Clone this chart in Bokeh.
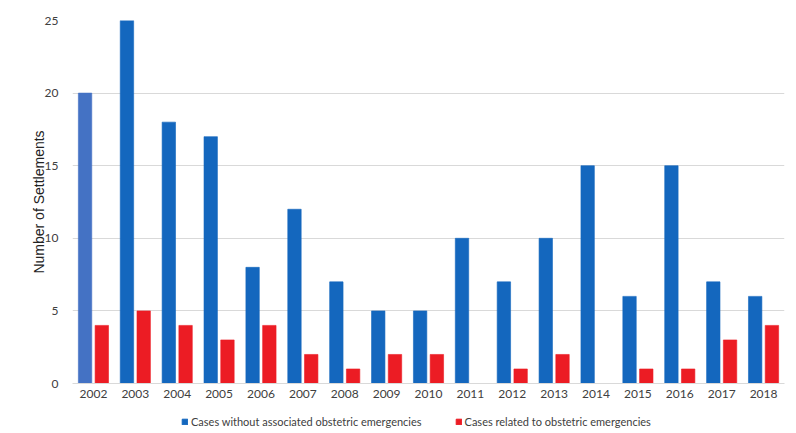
from bokeh.plotting import figure
from bokeh.models import ColumnDataSource, Legend, LegendItem, FactorRange, SingleIntervalTicker
from bokeh.layouts import column
from bokeh.transform import dodge
from bokeh.embed import file_html
from bokeh.resources import INLINE

years = ["2002", "2003", "2004", "2005", "2006", "2007", "2008", "2009", "2010",
         "2011", "2012", "2013", "2014", "2015", "2016", "2017", "2018"]
without_emerg = [20, 25, 18, 17, 8, 12, 7, 5, 5, 10, 7, 10, 15, 6, 15, 7, 6]
related_emerg = [4, 5, 4, 3, 4, 2, 1, 2, 2, 0, 1, 2, 0, 1, 1, 3, 4]
series_names = ["Cases without associated obstetric emergencies",
                "Cases related to obstetric emergencies"]

BLUE = "#1467BE"
BLUE_FIRST = "#4472C4"
RED = "#EC1C24"

blue_colors = [BLUE_FIRST] + [BLUE] * (len(years) - 1)

src = ColumnDataSource(dict(years=years, a=without_emerg, b=related_emerg, ca=blue_colors))

p = figure(x_range=FactorRange(*years), y_range=(0, 25),
           frame_width=712, frame_height=363,
           output_backend="svg", toolbar_location=None,
           min_border_left=72, min_border_right=4, min_border_top=20, min_border_bottom=0)

r1 = p.vbar(x=dodge("years", -0.2, range=p.x_range), top="a", width=0.32, source=src,
            fill_color="ca", line_color="ca", line_alpha=0.6)
r2 = p.vbar(x=dodge("years", 0.2, range=p.x_range), top="b", width=0.32, source=src,
            fill_color=RED, line_color=RED, line_alpha=0.6)

p.outline_line_color = None
p.xgrid.grid_line_color = None
p.ygrid.grid_line_color = "#d9d9d9"
p.yaxis.ticker = SingleIntervalTicker(interval=5)
p.yaxis.axis_line_color = None
p.yaxis.major_tick_line_color = None
p.yaxis.minor_tick_line_color = None
p.xaxis.axis_line_color = "#d9d9d9"
p.xaxis.major_tick_line_color = None
p.xaxis.minor_tick_line_color = None
p.xaxis.major_tick_out = 0
p.yaxis.major_tick_out = 0
for ax in (p.xaxis, p.yaxis):
    ax.major_label_text_font = "Lato"
    ax.major_label_text_font_size = "12px"
    ax.major_label_text_color = "#404040"
p.xaxis.major_label_standoff = 6
p.yaxis.major_label_standoff = 10
p.yaxis.axis_label = "Number of Settlements"
p.yaxis.axis_label_text_font = "Liberation Sans"
p.yaxis.axis_label_text_font_style = "normal"
p.yaxis.axis_label_text_font_size = "14px"
p.yaxis.axis_label_text_color = "#222222"
p.yaxis.axis_label_standoff = -5

# Legend strip below the chart (same data, drawn out of view; only the legend shows)
p2 = figure(x_range=p.x_range, y_range=(100, 101), width=788, height=30,
            output_backend="svg", toolbar_location=None,
            x_axis_type=None, y_axis_type=None,
            min_border_left=0, min_border_right=0, min_border_top=0, min_border_bottom=0)
p2.outline_line_color = None
p2.xgrid.grid_line_color = None
p2.ygrid.grid_line_color = None
q1 = p2.vbar(x=dodge("years", -0.2, range=p2.x_range), top="a", width=0.32, source=src,
             fill_color=BLUE, line_color=BLUE)
q2 = p2.vbar(x=dodge("years", 0.2, range=p2.x_range), top="b", width=0.32, source=src,
             fill_color=RED, line_color=RED)

legend = Legend(items=[
    LegendItem(label=series_names[0], renderers=[q1]),
    LegendItem(label=series_names[1], renderers=[q2]),
], orientation="horizontal", location=(109, 2))
legend.label_text_font = "Lato"
legend.label_text_font_size = "11px"
legend.label_text_color = "#404040"
legend.glyph_width = 7
legend.glyph_height = 7
legend.spacing = 33
legend.padding = 0
legend.margin = 0
legend.label_standoff = 3
legend.label_height = 14
legend.border_line_color = None
legend.background_fill_alpha = 0
p2.add_layout(legend)

layout = column(p, p2, spacing=0)
open("out.html", "w").write(file_html(layout, INLINE))
